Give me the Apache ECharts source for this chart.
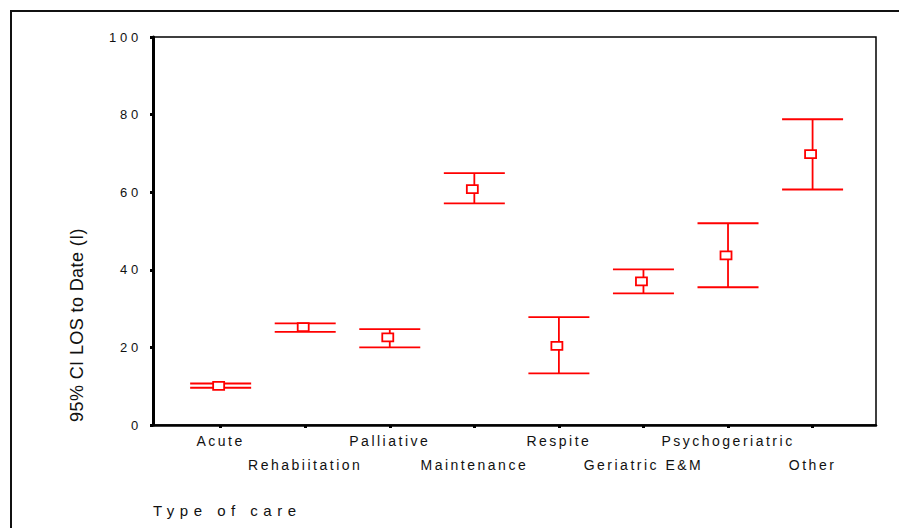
<!DOCTYPE html>
<html>
<head>
<meta charset="utf-8">
<script src="https://cdn.jsdelivr.net/npm/echarts@6/dist/echarts.min.js"></script>
<style>
  html, body { margin: 0; padding: 0; background: #fff; }
  #chart { width: 899px; height: 528px; }
</style>
</head>
<body>
<div id="chart"></div>
<script>
// Length of stay to date, 95% confidence intervals by type of care
const careTypes = ['Acute', 'Rehabiitation', 'Palliative', 'Maintenance', 'Respite', 'Geriatric E&M', 'Psychogeriatric', 'Other'];
const meanLOS  = [10.1, 25.2, 22.6, 60.8, 20.4, 37.0, 43.7, 69.8];
const lowerCI  = [9.6, 24.0, 20.0, 57.1, 13.3, 33.9, 35.5, 60.7];
const upperCI  = [10.7, 26.2, 24.7, 64.9, 27.8, 40.1, 52.0, 78.8];
const yTicks   = [0, 20, 40, 60, 80, 100];
const positions = careTypes.map((_, i) => i + 1);

const FONT = '"Liberation Sans", Arial, sans-serif';
const RED = '#ff0000';

const chart = echarts.init(document.getElementById('chart'), null, { renderer: 'svg' });

chart.setOption({
  animation: false,
  backgroundColor: '#fff',
  grid: {
    left: 153, right: 23, top: 37, bottom: 103,
    show: true, borderColor: '#000', borderWidth: 1.5, backgroundColor: 'transparent'
  },
  xAxis: {
    type: 'value', min: 0.2, max: 8.75,
    splitLine: { show: false },
    axisLine: { show: true, lineStyle: { color: '#000', width: 2.5 } },
    axisTick: { show: true, customValues: positions, length: 3, lineStyle: { color: '#000', width: 3 } },
    axisLabel: {
      customValues: positions,
      margin: 4,
      fontFamily: FONT, fontSize: 14, color: '#111', lineHeight: 24,
      formatter: v => {
        const i = Math.round(v) - 1;
        return i % 2 === 0 ? careTypes[i] : '\n' + careTypes[i];
      }
    }
  },
  yAxis: {
    type: 'value', min: 0, max: 100, interval: 20,
    splitLine: { show: false },
    axisLine: { show: true, lineStyle: { color: '#000', width: 3 } },
    axisTick: { show: true, customValues: yTicks, length: 3, lineStyle: { color: '#000', width: 3 } },
    axisLabel: {
      customValues: yTicks,
      margin: 11,
      fontFamily: FONT, fontSize: 13, color: '#111',
      formatter: v => String(v)
    }
  },
  graphic: [
    {
      type: 'rect', silent: true,
      shape: { x: 11, y: 11, width: 900, height: 530 },
      style: { fill: null, stroke: '#111', lineWidth: 2 }
    },
    {
      type: 'text', x: 153, y: 510,
      style: { text: 'Type of care', font: '15px ' + FONT, fill: '#111', align: 'left', verticalAlign: 'middle' }
    },
    {
      type: 'text', x: 77, y: 325, rotation: Math.PI / 2,
      style: { text: '95% CI LOS to Date (I)', font: '18px ' + FONT, fill: '#111', align: 'center', verticalAlign: 'middle' }
    }
  ],
  series: [{
    type: 'custom',
    data: positions.map((x, i) => [x, lowerCI[i], upperCI[i], meanLOS[i]]),
    encode: { x: 0, y: [1, 2, 3] },
    renderItem: (params, api) => {
      const x = api.value(0);
      const lo = api.coord([x, api.value(1)]);
      const hi = api.coord([x, api.value(2)]);
      const mid = api.coord([x, api.value(3)]);
      const half = 30.5;
      const line = { stroke: RED, lineWidth: 1.8 };
      return {
        type: 'group',
        children: [
          { type: 'line', shape: { x1: lo[0], y1: lo[1], x2: hi[0], y2: hi[1] }, style: line },
          { type: 'line', shape: { x1: lo[0] - half, y1: lo[1], x2: lo[0] + half, y2: lo[1] }, style: line },
          { type: 'line', shape: { x1: hi[0] - half, y1: hi[1], x2: hi[0] + half, y2: hi[1] }, style: line },
          { type: 'rect', shape: { x: mid[0] - 7.5, y: mid[1] - 4, width: 11, height: 8 },
            style: { stroke: RED, lineWidth: 1.8, fill: '#fff' } }
        ]
      };
    }
  }]
});

// Widen the tracking of the axis texts
const yTickText = yTicks.map(String);
function applyTracking() {
  document.querySelectorAll('#chart svg text').forEach(t => {
    const s = t.textContent.trim();
    let ls = null;
    if (yTickText.includes(s)) ls = 3.8;
    else if (careTypes.includes(s)) ls = 2.5;
    else if (s === 'Type of care') ls = 5.5;
    else if (s.startsWith('95%')) ls = 0.4;
    if (ls !== null) t.setAttribute('letter-spacing', ls);
  });
}
chart.on('finished', applyTracking);
applyTracking();
</script>
</body>
</html>
